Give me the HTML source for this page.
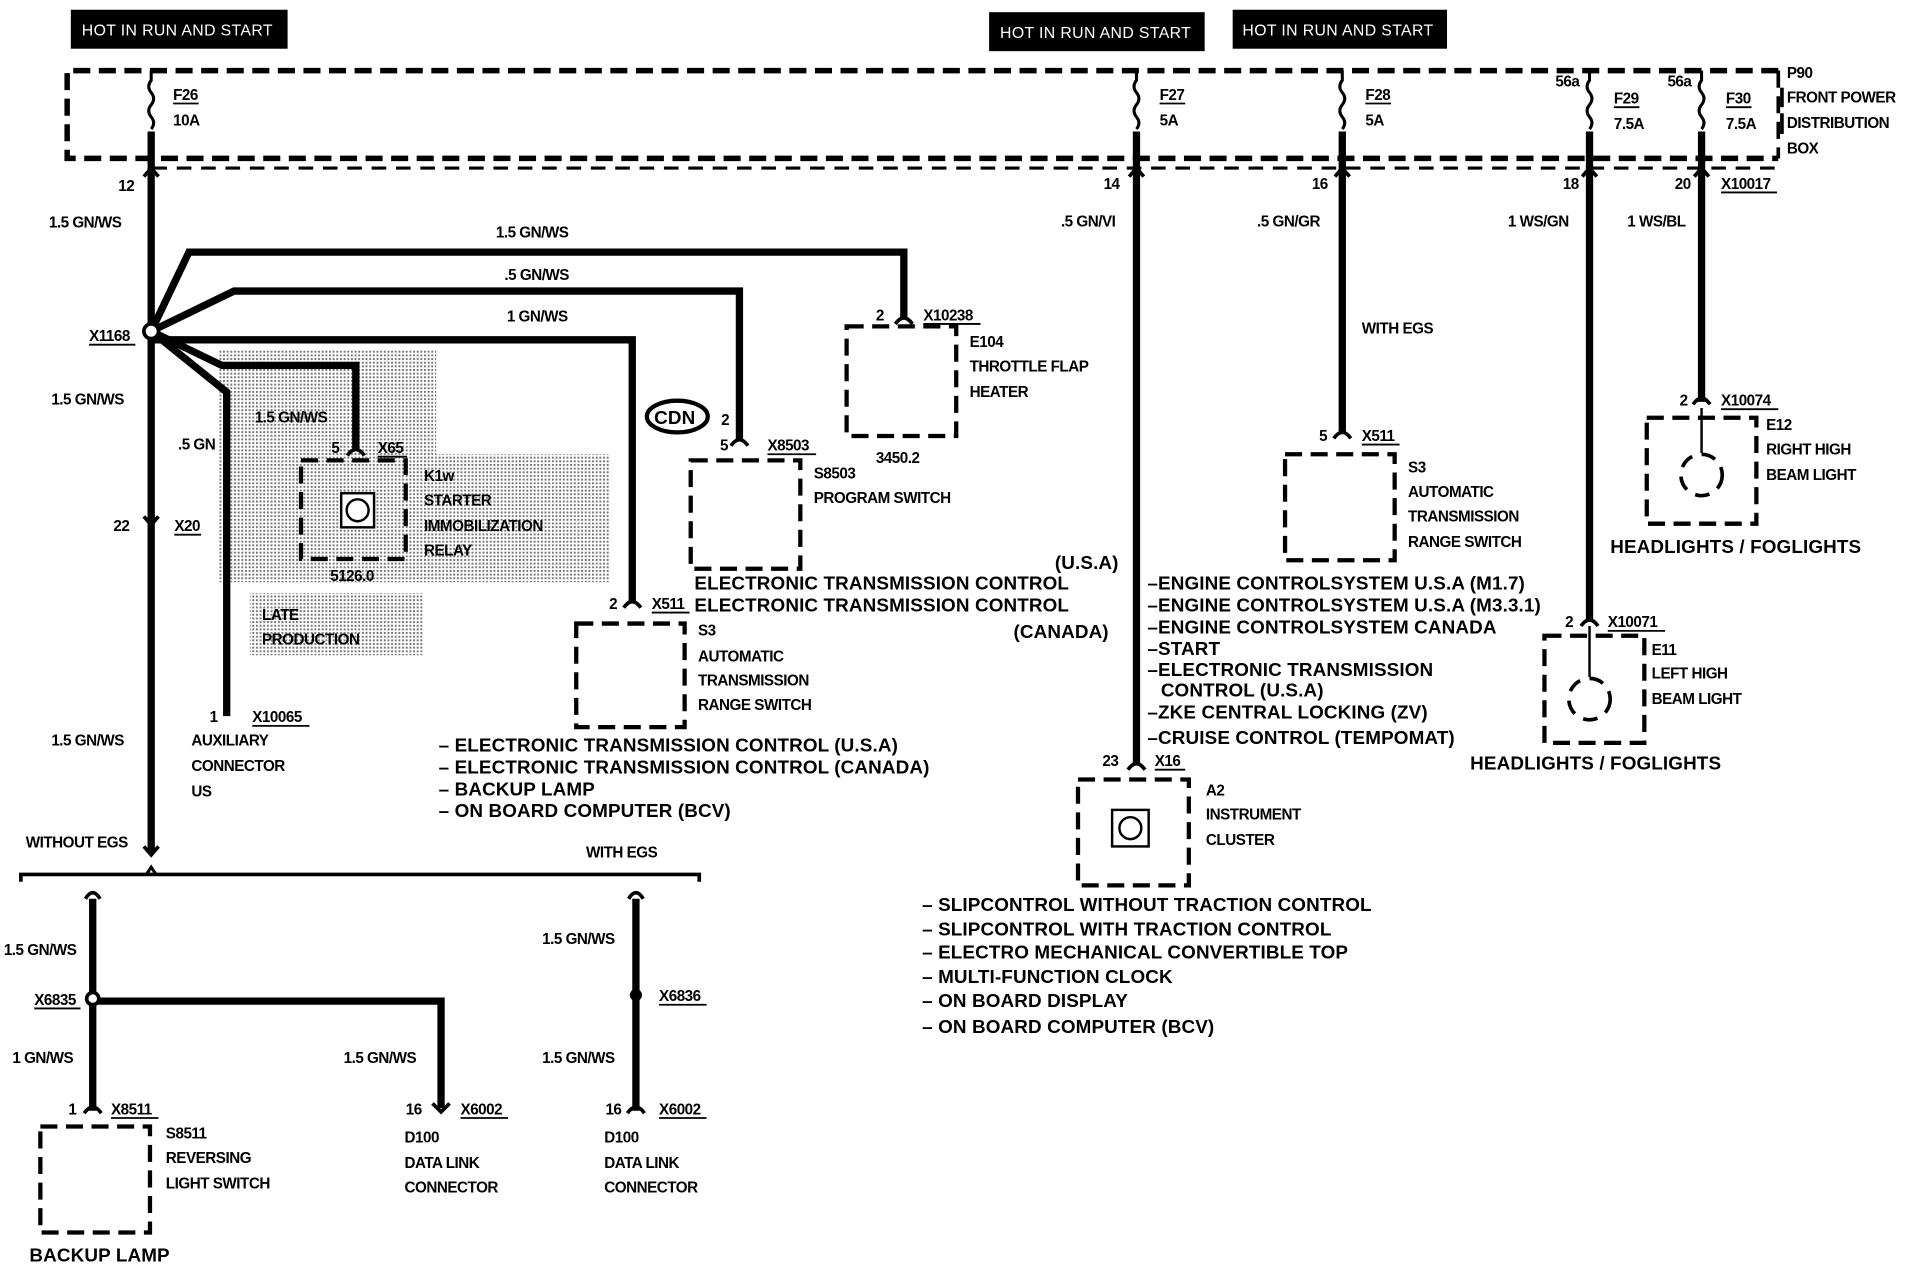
<!DOCTYPE html>
<html><head><meta charset="utf-8"><style>
html,body{margin:0;padding:0;background:#fff;}
svg{display:block}
text{font-family:"Liberation Sans",sans-serif;font-weight:bold;fill:#000;}
.t{font-size:12.5px;letter-spacing:-0.4px}
.b{font-size:15.5px;letter-spacing:0.1px}
.h{font-size:13px;fill:#fff;font-weight:normal;letter-spacing:0.3px}
.w{stroke:#000;stroke-width:6;fill:none;stroke-linejoin:miter}
.d{stroke:#000;stroke-width:3.5;fill:none;stroke-dasharray:14 7}
.c{stroke:#000;stroke-width:2.5;fill:none}
.u{stroke:#000;stroke-width:1.5}
</style></head><body>
<svg width="1910" height="1280" viewBox="0 0 1568 1051" xmlns="http://www.w3.org/2000/svg">
<defs>
<pattern id="dots" width="3" height="3" patternUnits="userSpaceOnUse">
<rect width="3" height="3" fill="#fff"/><rect width="1.6" height="1.6" fill="#777"/>
</pattern>
</defs>
<rect x="180" y="287" width="178" height="191" fill="url(#dots)"/>
<rect x="205" y="373" width="295" height="105" fill="url(#dots)"/>
<rect x="205" y="487" width="143" height="51" fill="url(#dots)"/>

<rect x="58" y="8" width="178" height="32" fill="#000"/><text class="h" x="67" y="29">HOT  IN  RUN  AND  START</text>
<rect x="812" y="10" width="177" height="32" fill="#000"/><text class="h" x="821" y="31">HOT  IN  RUN  AND  START</text>
<rect x="1012" y="8" width="176" height="32" fill="#000"/><text class="h" x="1020" y="29">HOT  IN  RUN  AND  START</text>

<path class="d" d="M1460 58 H55 V130 H1460" style="stroke-width:4.5"/>
<path class="d" d="M1460 58 V130" style="stroke-width:3"/>
<path class="d" d="M125 138 H1460" style="stroke-width:2.5;stroke-dasharray:12 8"/>

<g class="c" style="stroke-width:2.5">
<path d="M124 58 V66 q-4 5 0 10 q4 5 0 10 q-4 5 0 10 q4 5 0 10"/>
<path d="M933 58 V66 q-4 5 0 10 q4 5 0 10 q-4 5 0 10 q4 5 0 10"/>
<path d="M1102 58 V66 q-4 5 0 10 q4 5 0 10 q-4 5 0 10 q4 5 0 10"/>
<path d="M1305 58 V66 q-4 5 0 10 q4 5 0 10 q-4 5 0 10 q4 5 0 10"/>
<path d="M1397 58 V66 q-4 5 0 10 q4 5 0 10 q-4 5 0 10 q4 5 0 10"/>
</g>
<text class="t" x="142" y="82">F26</text><line class="u" x1="142" y1="85" x2="163" y2="85"/><text class="t" x="142" y="103">10A</text>
<text class="t" x="952" y="82">F27</text><line class="u" x1="952" y1="85" x2="973" y2="85"/><text class="t" x="952" y="103">5A</text>
<text class="t" x="1121" y="82">F28</text><line class="u" x1="1121" y1="85" x2="1142" y2="85"/><text class="t" x="1121" y="103">5A</text>
<text class="t" x="1325" y="85">F29</text><line class="u" x1="1325" y1="88" x2="1346" y2="88"/><text class="t" x="1325" y="106">7.5A</text>
<text class="t" x="1417" y="85">F30</text><line class="u" x1="1417" y1="88" x2="1438" y2="88"/><text class="t" x="1417" y="106">7.5A</text>
<text class="t" x="1277" y="71">56a</text><text class="t" x="1369" y="71">56a</text>
<text class="t" x="1467" y="64">P90</text>
<text class="t" x="1467" y="84">FRONT POWER</text>
<text class="t" x="1467" y="105">DISTRIBUTION</text>
<text class="t" x="1467" y="126">BOX</text>
<line x1="1463" y1="72" x2="1463" y2="88" stroke="#000" stroke-width="3"/>
<line x1="1463" y1="93" x2="1463" y2="110" stroke="#000" stroke-width="3"/>

<g class="w">
<path d="M124 108 V700"/>
<path d="M933 108 V628"/>
<path d="M1102 108 V356"/>
<path d="M1305 108 V510"/>
<path d="M1397 108 V330"/>
<path d="M124 272 L155 207 H742 V262"/>
<path d="M124 272 L192 239 H607 V362"/>
<path d="M124 272 L124 279 H519 V495"/>
<path d="M124 272 L182 300 H292 V370"/>
<path d="M124 272 L186 322 V588"/>
</g>
<circle cx="124" cy="272" r="6" fill="#fff" stroke="#000" stroke-width="3"/>
<g class="c" style="stroke-width:3">
<path d="M118 145 L124 138 L130 145"/>
<path d="M927 145 L933 138 L939 145"/>
<path d="M1096 145 L1102 138 L1108 145"/>
<path d="M1299 145 L1305 138 L1311 145"/>
<path d="M1391 145 L1397 138 L1403 145"/>
<path d="M118 424 L124 431 L130 424"/>
<path d="M118 695 L124 702 L130 695"/>
<path d="M735 266 Q742 256 749 266"/>
<path d="M600 366 Q607 356 614 366"/>
<path d="M512 499 Q519 489 526 499"/>
<path d="M285 374 Q292 364 299 374"/>
<path d="M1095 360 Q1102 350 1109 360"/>
<path d="M1298 514 Q1305 504 1312 514"/>
<path d="M1390 332 Q1397 322 1404 332"/>
<path d="M926 632 Q933 622 940 632"/>
<path d="M69 914 Q76 904 83 914"/>
<path d="M355 906 L362 913 L369 906"/>
<path d="M515 914 Q522 904 529 914"/>
</g>

<text class="t" x="97" y="157">12</text>
<text class="t" x="906" y="155">14</text>
<text class="t" x="1077" y="155">16</text>
<text class="t" x="1283" y="155">18</text>
<text class="t" x="1375" y="155">20</text>
<text class="t" x="1413" y="155">X10017</text><line class="u" x1="1413" y1="158" x2="1459" y2="158"/>
<text class="t" x="40" y="187">1.5 GN/WS</text>
<text class="t" x="871" y="186">.5 GN/VI</text>
<text class="t" x="1032" y="186">.5 GN/GR</text>
<text class="t" x="1238" y="186">1 WS/GN</text>
<text class="t" x="1336" y="186">1 WS/BL</text>
<text class="t" x="407" y="195">1.5 GN/WS</text>
<text class="t" x="414" y="230">.5 GN/WS</text>
<text class="t" x="416" y="264">1 GN/WS</text>
<text class="t" x="73" y="280">X1168</text><line class="u" x1="73" y1="283" x2="111" y2="283"/>
<text class="t" x="42" y="332">1.5 GN/WS</text>
<text class="t" x="146" y="369">.5 GN</text>
<text class="t" x="209" y="347">1.5 GN/WS</text>
<text class="t" x="93" y="436">22</text>
<text class="t" x="143" y="436">X20</text><line class="u" x1="143" y1="439" x2="165" y2="439"/>
<text class="t" x="42" y="612">1.5 GN/WS</text>

<rect class="d" x="247" y="378" width="86" height="81"/>
<rect x="280" y="405" width="27" height="28" fill="#fff" stroke="#000" stroke-width="2"/>
<circle cx="293.5" cy="419" r="9" fill="none" stroke="#000" stroke-width="2"/>
<text class="t" x="272" y="372">5</text>
<text class="t" x="310" y="372">X65</text><line class="u" x1="310" y1="375" x2="334" y2="375"/>
<text class="t" x="348" y="395">K1w</text>
<text class="t" x="348" y="415">STARTER</text>
<text class="t" x="348" y="436">IMMOBILIZATION</text>
<text class="t" x="348" y="456">RELAY</text>
<text class="t" x="271" y="477">5126.0</text>
<text class="t" x="215" y="509">LATE</text>
<text class="t" x="215" y="529">PRODUCTION</text>

<rect class="d" x="695" y="268" width="90" height="90"/>
<text class="t" x="719" y="263">2</text>
<text class="t" x="758" y="263">X10238</text><line class="u" x1="758" y1="266" x2="805" y2="266"/>
<text class="t" x="796" y="285">E104</text>
<text class="t" x="796" y="305">THROTTLE FLAP</text>
<text class="t" x="796" y="326">HEATER</text>
<text class="t" x="719" y="380">3450.2</text>

<ellipse cx="556" cy="342" rx="25" ry="13" fill="none" stroke="#000" stroke-width="3.5"/>
<text class="b" x="537" y="348">CDN</text>
<text class="t" x="592" y="349">2</text>
<text class="t" x="591" y="370">5</text>
<text class="t" x="630" y="370">X8503</text><line class="u" x1="630" y1="373" x2="670" y2="373"/>
<rect class="d" x="567" y="378" width="90" height="89"/>
<text class="t" x="668" y="393">S8503</text>
<text class="t" x="668" y="413">PROGRAM SWITCH</text>
<text class="b" x="570" y="484">ELECTRONIC TRANSMISSION CONTROL</text>
<text class="b" x="866" y="467">(U.S.A)</text>
<text class="b" x="570" y="502">ELECTRONIC TRANSMISSION CONTROL</text>
<text class="b" x="832" y="524">(CANADA)</text>

<rect class="d" x="473" y="512" width="89" height="85"/>
<text class="t" x="500" y="500">2</text>
<text class="t" x="535" y="500">X511</text><line class="u" x1="535" y1="503" x2="566" y2="503"/>
<text class="t" x="573" y="522">S3</text>
<text class="t" x="573" y="543">AUTOMATIC</text>
<text class="t" x="573" y="563">TRANSMISSION</text>
<text class="t" x="573" y="583">RANGE SWITCH</text>
<text class="b" x="360" y="617">– ELECTRONIC TRANSMISSION CONTROL (U.S.A)</text>
<text class="b" x="360" y="635">– ELECTRONIC TRANSMISSION CONTROL (CANADA)</text>
<text class="b" x="360" y="653">– BACKUP LAMP</text>
<text class="b" x="360" y="671">– ON BOARD COMPUTER (BCV)</text>

<text class="t" x="172" y="593">1</text>
<text class="t" x="207" y="593">X10065</text><line class="u" x1="207" y1="596" x2="254" y2="596"/>
<text class="t" x="157" y="612">AUXILIARY</text>
<text class="t" x="157" y="633">CONNECTOR</text>
<text class="t" x="157" y="654">US</text>

<text class="t" x="21" y="696">WITHOUT EGS</text>
<text class="t" x="481" y="704">WITH EGS</text>
<path d="M17 724 V718 H574 V724" class="c" style="stroke-width:3"/>
<path d="M120 718 L124 712 L128 718" class="c"/>

<g class="w">
<path d="M76 738 V912"/>
<path d="M76 822 H362 V910"/>
<path d="M522 738 V912"/>
</g>
<path d="M70 738 Q76 728 82 738" class="c" style="stroke-width:3"/>
<path d="M516 738 Q522 728 528 738" class="c" style="stroke-width:3"/>
<circle cx="76" cy="820" r="5" fill="#fff" stroke="#000" stroke-width="3"/>
<circle cx="522" cy="817" r="5" fill="#000"/>
<text class="t" x="3" y="784">1.5 GN/WS</text>
<text class="t" x="28" y="825">X6835</text><line class="u" x1="28" y1="828" x2="66" y2="828"/>
<text class="t" x="10" y="873">1 GN/WS</text>
<text class="t" x="282" y="873">1.5 GN/WS</text>
<text class="t" x="445" y="775">1.5 GN/WS</text>
<text class="t" x="541" y="822">X6836</text><line class="u" x1="541" y1="825" x2="580" y2="825"/>
<text class="t" x="445" y="873">1.5 GN/WS</text>
<text class="t" x="56" y="915">1</text>
<text class="t" x="91" y="915">X8511</text><line class="u" x1="91" y1="918" x2="130" y2="918"/>
<rect class="d" x="33" y="925" width="90" height="87"/>
<text class="t" x="136" y="935">S8511</text>
<text class="t" x="136" y="955">REVERSING</text>
<text class="t" x="136" y="976">LIGHT SWITCH</text>
<text class="b" x="24" y="1036">BACKUP LAMP</text>
<text class="t" x="333" y="915">16</text>
<text class="t" x="378" y="915">X6002</text><line class="u" x1="378" y1="918" x2="417" y2="918"/>
<text class="t" x="332" y="938">D100</text>
<text class="t" x="332" y="959">DATA LINK</text>
<text class="t" x="332" y="979">CONNECTOR</text>
<text class="t" x="497" y="915">16</text>
<text class="t" x="541" y="915">X6002</text><line class="u" x1="541" y1="918" x2="580" y2="918"/>
<text class="t" x="496" y="938">D100</text>
<text class="t" x="496" y="959">DATA LINK</text>
<text class="t" x="496" y="979">CONNECTOR</text>

<text class="b" x="942" y="484">–ENGINE CONTROLSYSTEM U.S.A (M1.7)</text>
<text class="b" x="942" y="502">–ENGINE CONTROLSYSTEM U.S.A (M3.3.1)</text>
<text class="b" x="942" y="520">–ENGINE CONTROLSYSTEM CANADA</text>
<text class="b" x="942" y="538">–START</text>
<text class="b" x="942" y="555">–ELECTRONIC TRANSMISSION</text>
<text class="b" x="953" y="572">CONTROL (U.S.A)</text>
<text class="b" x="942" y="590">–ZKE CENTRAL LOCKING (ZV)</text>
<text class="b" x="942" y="611">–CRUISE CONTROL (TEMPOMAT)</text>
<text class="t" x="905" y="629">23</text>
<text class="t" x="948" y="629">X16</text><line class="u" x1="948" y1="632" x2="973" y2="632"/>
<rect class="d" x="885" y="640" width="91" height="87"/>
<rect x="913" y="665" width="30" height="30" fill="#fff" stroke="#000" stroke-width="2"/>
<circle cx="928" cy="680" r="9" fill="none" stroke="#000" stroke-width="2"/>
<text class="t" x="990" y="653">A2</text>
<text class="t" x="990" y="673">INSTRUMENT</text>
<text class="t" x="990" y="694">CLUSTER</text>
<text class="b" x="757" y="748">– SLIPCONTROL WITHOUT TRACTION CONTROL</text>
<text class="b" x="757" y="768">– SLIPCONTROL WITH TRACTION CONTROL</text>
<text class="b" x="757" y="787">– ELECTRO MECHANICAL CONVERTIBLE TOP</text>
<text class="b" x="757" y="807">– MULTI-FUNCTION CLOCK</text>
<text class="b" x="757" y="827">– ON BOARD DISPLAY</text>
<text class="b" x="757" y="848">– ON BOARD COMPUTER (BCV)</text>

<text class="t" x="1118" y="274">WITH EGS</text>
<text class="t" x="1083" y="362">5</text>
<text class="t" x="1118" y="362">X511</text><line class="u" x1="1118" y1="365" x2="1149" y2="365"/>
<rect class="d" x="1055" y="373" width="90" height="87"/>
<text class="t" x="1156" y="388">S3</text>
<text class="t" x="1156" y="408">AUTOMATIC</text>
<text class="t" x="1156" y="428">TRANSMISSION</text>
<text class="t" x="1156" y="449">RANGE SWITCH</text>

<text class="t" x="1379" y="333">2</text>
<text class="t" x="1413" y="333">X10074</text><line class="u" x1="1413" y1="336" x2="1460" y2="336"/>
<rect class="d" x="1352" y="343" width="90" height="87"/>
<line x1="1397" y1="335" x2="1397" y2="372" stroke="#000" stroke-width="2"/>
<circle cx="1397" cy="390" r="17" fill="none" stroke="#000" stroke-width="3" stroke-dasharray="12 8"/>
<text class="t" x="1450" y="353">E12</text>
<text class="t" x="1450" y="373">RIGHT HIGH</text>
<text class="t" x="1450" y="394">BEAM LIGHT</text>
<text class="b" x="1322" y="454">HEADLIGHTS / FOGLIGHTS</text>

<text class="t" x="1285" y="515">2</text>
<text class="t" x="1320" y="515">X10071</text><line class="u" x1="1320" y1="518" x2="1367" y2="518"/>
<rect class="d" x="1268" y="522" width="82" height="88"/>
<line x1="1305" y1="514" x2="1305" y2="556" stroke="#000" stroke-width="2"/>
<circle cx="1305" cy="574" r="17" fill="none" stroke="#000" stroke-width="3" stroke-dasharray="12 8"/>
<text class="t" x="1356" y="538">E11</text>
<text class="t" x="1356" y="557">LEFT HIGH</text>
<text class="t" x="1356" y="578">BEAM LIGHT</text>
<text class="b" x="1207" y="632">HEADLIGHTS / FOGLIGHTS</text>
</svg>
</body></html>
